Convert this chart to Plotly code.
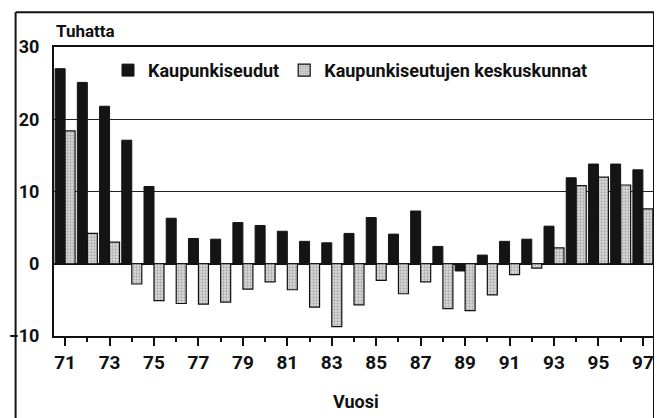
import plotly.graph_objects as go

years = list(range(71, 98))
kaupunkiseudut = [27.0, 25.1, 21.8, 17.1, 10.7, 6.3, 3.5, 3.4, 5.7, 5.3, 4.5, 3.1, 2.9,
                  4.2, 6.4, 4.1, 7.3, 2.4, -1.0, 1.2, 3.1, 3.4, 5.2, 11.9, 13.8, 13.8, 13.0]
keskuskunnat = [18.4, 4.2, 3.0, -2.8, -5.1, -5.5, -5.6, -5.3, -3.5, -2.5, -3.6, -6.0, -8.7,
                -5.7, -2.3, -4.15, -2.5, -6.2, -6.5, -4.3, -1.5, -0.6, 2.2, 10.8, 12.0, 10.9, 7.6]
tick_years = list(range(71, 98, 2))
tick_labels = [str(y) for y in tick_years]
y_ticks = [-10, 0, 10, 20, 30]

FONT = "Roboto, Liberation Sans, sans-serif"

fig = go.Figure()
fig.add_trace(go.Bar(
    x=years, y=kaupunkiseudut, name="Kaupunkiseudut",
    marker=dict(color="#141414", line=dict(color="#141414", width=1)),
))
fig.add_trace(go.Bar(
    x=years, y=keskuskunnat, name="Kaupunkiseutujen keskuskunnat",
    marker=dict(color="#d0d0d0", line=dict(color="#111111", width=1.2),
                pattern=dict(shape=".", fgcolor="#777777", bgcolor="#dddddd",
                             size=3, solidity=0.45)),
))

frame = dict(color="#111111", width=2)

# page body has an 8px default margin, so the figure is offset by (8, 8)
fig.update_layout(
    width=654, height=410,
    margin=dict(l=46, r=8, t=38.5, b=81.5, autoexpand=False),
    paper_bgcolor="white", plot_bgcolor="white",
    barmode="group", bargap=0.1, bargroupgap=0.0,
    font=dict(family=FONT, size=17, color="#111111", weight="bold"),
    showlegend=True,
    legend=dict(orientation="h", x=0.09, y=0.919, xanchor="left", yanchor="middle",
                bgcolor="rgba(0,0,0,0)", font=dict(family=FONT, size=18, weight="bold"),
                itemwidth=30, traceorder="normal"),
    xaxis=dict(range=[70.5, 97.5], tickmode="array", tickvals=tick_years,
               ticktext=tick_labels, ticks="outside", ticklen=8, tickwidth=1.5,
               tickcolor="#111111", automargin=False,
               minor=dict(dtick=1, tick0=71, ticks="outside", ticklen=4, tickwidth=1.5,
                          tickcolor="#111111"),
               showline=True, linecolor="#111111", linewidth=2, mirror=True,
               showgrid=False, zeroline=False,
               tickfont=dict(family=FONT, size=19, weight="bold")),
    yaxis=dict(range=[-10, 30], tickmode="array", tickvals=y_ticks,
               ticks="", showline=True, linecolor="#111111", linewidth=2, mirror=True,
               showgrid=True, gridcolor="#222222", gridwidth=1.3, automargin=False,
               zeroline=True, zerolinecolor="#111111", zerolinewidth=2,
               ticklabelstandoff=9,
               tickfont=dict(family=FONT, size=18, weight="bold")),
    annotations=[
        dict(text="Tuhatta", xref="paper", yref="paper", x=0.0, y=1.057,
             xanchor="left", yanchor="middle", showarrow=False,
             font=dict(family=FONT, size=17, weight="bold")),
        dict(text="Vuosi", xref="paper", yref="paper", x=0.503, y=-0.225,
             xanchor="center", yanchor="middle", showarrow=False,
             font=dict(family=FONT, size=18, weight="bold")),
    ],
    shapes=[
        dict(type="line", xref="paper", yref="paper", x0=-0.064, x1=1.0,
             y0=1.12, y1=1.12, line=frame, layer="above"),
        dict(type="line", xref="paper", yref="paper", x0=-0.064, x1=-0.064,
             y0=-0.6, y1=1.12, line=frame, layer="above"),
        dict(type="line", xref="paper", yref="paper", x0=1.0, x1=1.0,
             y0=-0.6, y1=1.12, line=frame, layer="above"),
    ],
)

fig.write_html("out.html")
